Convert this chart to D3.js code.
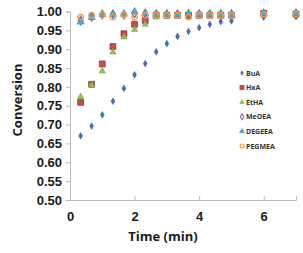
<!DOCTYPE html>
<html>
<head>
<meta charset="utf-8">
<script src="https://cdn.jsdelivr.net/npm/d3@7"></script>
<style>
  body { margin: 0; background: #fff; }
  svg { display: block; font-family: "Open Sans", sans-serif; }
</style>
</head>
<body>
<div id="chart"></div>
<script>
const times = [0.33, 0.67, 1, 1.33, 1.67, 2, 2.33, 2.67, 3, 3.33, 3.67, 4, 4.33, 4.67, 5, 6, 7];

const buA    = [0.670, 0.696, 0.726, 0.762, 0.796, 0.832, 0.862, 0.893, 0.915, 0.934, 0.947, 0.957, 0.966, 0.973, 0.975, 0.985, 0.986];
const hxA    = [0.759, 0.807, 0.861, 0.907, 0.941, 0.966, 0.976, 0.990, 0.990, 0.990, 0.990, 0.990, 0.990, 0.990, 0.990, 0.995, 0.993];
const etHA   = [0.774, 0.805, 0.842, 0.892, 0.932, 0.952, 0.966, 0.985, 0.988, 0.990, 0.990, 0.990, 0.990, 0.990, 0.990, 0.993, 0.993];
const meOEA  = [0.976, 0.986, 0.992, 0.993, 0.992, 0.995, 0.995, 0.993, 0.993, 0.993, 0.993, 0.993, 0.993, 0.993, 0.993, 0.995, 0.995];
const degeea = [0.972, 0.984, 0.992, 0.993, 0.993, 1.000, 0.995, 0.993, 0.993, 0.993, 0.995, 0.993, 0.993, 0.993, 0.993, 0.995, 0.995];
const pegmea = [0.985, 0.990, 0.991, 0.985, 0.992, 0.985, 0.990, 0.990, 0.990, 0.990, 0.985, 0.990, 0.990, 0.990, 0.990, 0.993, 0.993];

const seriesNames = ["BuA", "HxA", "EtHA", "MeOEA", "DEGEEA", "PEGMEA"];
const seriesValues = [buA, hxA, etHA, meOEA, degeea, pegmea];

const yTicks = [0.5, 0.55, 0.6, 0.65, 0.7, 0.75, 0.8, 0.85, 0.9, 0.95, 1.0];
const xTicks = [0, 2, 4, 6];

const w = 303;
const h = 253;

// marker look per series
const styles = [
  { shape: d3.symbolDiamond, size: 13, fill: "#4a6ea8", stroke: "#3b5d95", sw: 0.5 },
  { shape: d3.symbolSquare, size: 34, fill: "#c0504d", stroke: "#8c3836", sw: 0.8 },
  { shape: d3.symbolTriangle, size: 18, fill: "#9bbb59", stroke: "#7f9a46", sw: 0.5 },
  { shape: d3.symbolDiamond, size: 20, fill: "none", stroke: "#8064a2", sw: 1.3 },
  { shape: d3.symbolTriangle, size: 22, fill: "#4bacc6", stroke: "#3a8ea6", sw: 0.6 },
  { shape: d3.symbolCircle, size: 24, fill: "none", stroke: "#f79646", sw: 1.4 }
];

const svg = d3.select("#chart").append("svg").attr("width", w).attr("height", h);

const xScale = d3.scaleLinear().domain([0, 7]).range([70, 296]);
const yScale = d3.scaleLinear().domain([0.5, 1.0]).range([200, 11.5]);

// y axis
const yAxis = svg.append("g")
  .attr("transform", `translate(${xScale(0)},0)`)
  .call(d3.axisLeft(yScale).tickValues(yTicks).tickFormat(d3.format(".2f")).tickSize(4).tickPadding(4));

// x axis
const xAxis = svg.append("g")
  .attr("transform", `translate(0,${yScale(0.5)})`)
  .call(d3.axisBottom(xScale).tickValues(xTicks).tickFormat(d3.format("d")).tickSize(-4).tickPadding(12));

[yAxis, xAxis].forEach((g) => {
  g.selectAll(".domain, .tick line").attr("stroke", "#bdbdbd");
  g.selectAll("text")
    .attr("fill", "#1a1a1a")
    .style("font-size", "13px")
    .style("font-weight", "bold");
});

svg.append("text")
  .attr("transform", "translate(22,100) rotate(-90)")
  .attr("text-anchor", "middle")
  .style("font-size", "13px")
  .style("font-weight", "bold")
  .attr("fill", "#1a1a1a")
  .text("Conversion");

svg.append("text")
  .attr("x", 163)
  .attr("y", 241)
  .attr("text-anchor", "middle")
  .style("font-size", "13px")
  .style("font-weight", "bold")
  .attr("fill", "#1a1a1a")
  .text("Time (min)");

// points
seriesValues.forEach((vals, si) => {
  const st = styles[si];
  const sym = d3.symbol().type(st.shape).size(st.size);
  svg.append("g")
    .selectAll("path")
    .data(vals.map((v, i) => ({ t: times[i], v })))
    .enter()
    .append("path")
    .attr("d", sym)
    .attr("transform", (d) => `translate(${xScale(d.t)},${yScale(d.v)})`)
    .attr("fill", st.fill)
    .attr("stroke", st.stroke)
    .attr("stroke-width", st.sw);
});

// legend, smaller markers than in the plot
const legend = svg.append("g").attr("transform", "translate(242,73)");
seriesNames.forEach((name, i) => {
  const st = styles[i];
  const row = legend.append("g").attr("transform", `translate(0,${i * 14.6})`);
  row.append("path")
    .attr("d", d3.symbol().type(st.shape).size(st.size * 0.5)())
    .attr("fill", st.fill)
    .attr("stroke", st.stroke)
    .attr("stroke-width", st.sw * 0.8);
  row.append("text")
    .attr("x", 4)
    .attr("y", 2.5)
    .style("font-size", "7px")
    .style("font-weight", "bold")
    .attr("fill", "#333")
    .text(name);
});
</script>
</body>
</html>
